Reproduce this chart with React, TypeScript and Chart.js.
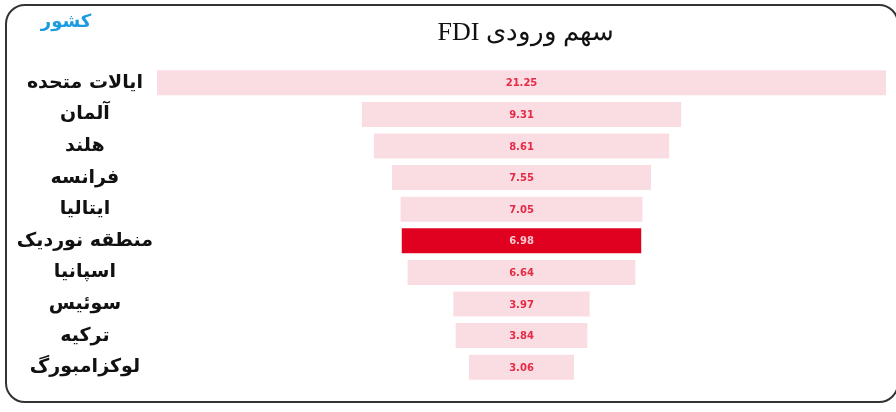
import React, { useEffect, useRef } from "react";
import { Chart, registerables } from "chart.js";

Chart.register(...registerables);

const countries = [
  "ایالات متحده",
  "آلمان",
  "هلند",
  "فرانسه",
  "ایتالیا",
  "منطقه نوردیک",
  "اسپانیا",
  "سوئیس",
  "ترکیه",
  "لوکزامبورگ",
];
const shares = [21.25, 9.31, 8.61, 7.55, 7.05, 6.98, 6.64, 3.97, 3.84, 3.06];
const highlighted = "منطقه نوردیک";
const titleText = "سهم ورودی FDI";
const axisTitle = "کشور";

const PINK = "#fadde3";
const RED = "#e0001f";

export default function App() {
  const ref = useRef<HTMLCanvasElement | null>(null);

  useEffect(() => {
    if (!ref.current) return;
    const maxV = Math.max(...shares);
    const labelPlugin = {
      id: "funnelLabels",
      afterDatasetsDraw(chart: any) {
        const ctx = chart.ctx;
        const meta = chart.getDatasetMeta(0);
        ctx.save();
        ctx.textAlign = "center";
        ctx.textBaseline = "middle";
        ctx.font = "bold 10px 'DejaVu Sans', sans-serif";
        meta.data.forEach((el: any, i: number) => {
          const cx = (el.x + el.base) / 2;
          ctx.fillStyle = countries[i] === highlighted ? "#f7c9d0" : "#e52a45";
          ctx.fillText(shares[i].toFixed(2), cx, el.y + 1);
        });
        ctx.restore();
      },
      afterDraw(chart: any) {
        const ctx = chart.ctx;
        ctx.save();
        ctx.textBaseline = "middle";
        ctx.textAlign = "center";
        ctx.direction = "rtl";
        ctx.fillStyle = "#111";
        ctx.font = "26px 'Liberation Serif', 'DejaVu Serif', serif";
        ctx.fillText(titleText, 526, 33);
        ctx.fillStyle = "#1b9be0";
        ctx.font = "bold 18px 'DejaVu Sans', sans-serif";
        ctx.fillText(axisTitle, 66, 22);
        ctx.restore();
      },
    };

    const chart = new Chart(ref.current, {
      type: "bar",
      data: {
        labels: countries,
        datasets: [
          {
            data: shares.map((v) => [-v / 2, v / 2]) as any,
            backgroundColor: countries.map((c) => (c === highlighted ? RED : PINK)),
            borderWidth: 0,
            barPercentage: 0.79,
            categoryPercentage: 1,
          },
        ],
      },
      options: {
        indexAxis: "y",
        animation: false,
        responsive: false,
        maintainAspectRatio: false,
        layout: { padding: { left: 8, right: 10, top: 67, bottom: 29 } },
        plugins: {
          legend: { display: false },
          tooltip: { enabled: false },
          title: { display: false },
        },
        scales: {
          x: {
            display: false,
            min: -maxV / 2,
            max: maxV / 2,
          },
          y: {
            grid: { display: false, drawTicks: false },
            border: { display: false },
            ticks: {
              crossAlign: "center",
              padding: 4,
              color: "#111",
              font: { family: "'DejaVu Sans', sans-serif", size: 19, weight: "bold" },
            },
            afterFit: (scale: any) => {
              scale.width = 149;
            },
          },
        },
      },
      plugins: [labelPlugin],
    } as any);

    return () => chart.destroy();
  }, []);

  return (
    <div style={{ position: "fixed", left: 0, top: 0, width: 896, height: 412, background: "#fff" }}>
      <canvas ref={ref} width={896} height={412} style={{ position: "absolute", left: 0, top: 0 }} />
      <div
        style={{
          position: "absolute",
          left: 5,
          top: 4,
          width: 894,
          height: 399,
          border: "2px solid #333",
          borderRadius: 20,
          boxSizing: "border-box",
          pointerEvents: "none",
        }}
      />
    </div>
  );
}
